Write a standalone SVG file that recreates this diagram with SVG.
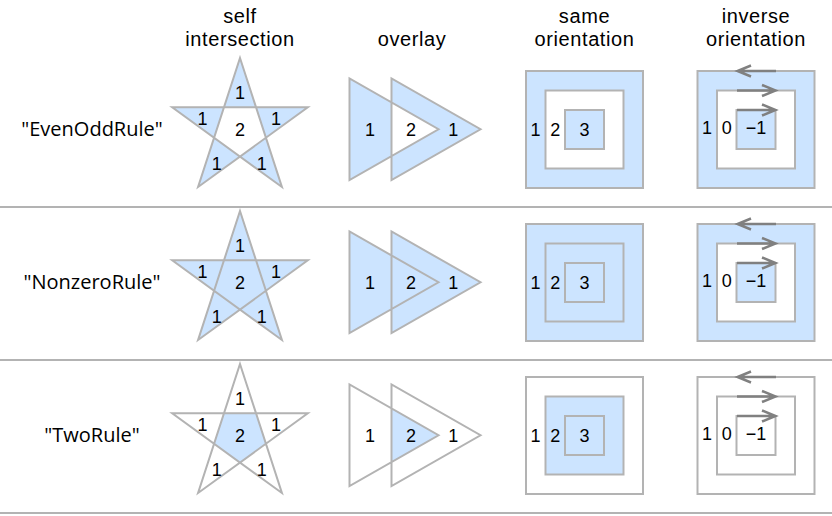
<svg xmlns="http://www.w3.org/2000/svg" xmlns:xlink="http://www.w3.org/1999/xlink" width="832" height="516" viewBox="0 0 832 516">
<style>
.hdr{font-family:"Liberation Sans",Arial,sans-serif;font-size:20px;letter-spacing:0.6px;fill:#000;text-anchor:middle}
.rl{font-family:"Open Sans","Liberation Sans",sans-serif;font-size:20px;fill:#000;text-anchor:middle}
.n{font-family:"Liberation Sans",Arial,sans-serif;font-size:18px;fill:#000;text-anchor:middle}
.fill{fill:#cce4ff;stroke:none}
.edge{fill:none;stroke:#b3b3b3;stroke-width:2;stroke-linejoin:miter}
.arr{fill:none;stroke:#808080;stroke-width:2.5}
.sep{stroke:#b3b3b3;stroke-width:2}
</style>
<defs>
<path id="star" d="M240,58 L281.9,187 L172.2,107.3 L307.8,107.3 L198.1,187 Z"/>
<path id="pent" d="M256,107.3 L265.9,137.7 L240,156.5 L214.1,137.7 L224,107.3 Z"/>
<path id="tris" d="M349.5,78.5 V180 L438.5,129.25 Z M391.5,78.5 V180 L480.5,129.25 Z"/>
<path id="lens" d="M391.5,102.45 L438.5,129.25 L391.5,156.05 Z"/>
<path id="sq3" d="M526,71 H643 V188 H526 Z M545.5,90.5 H623.5 V168.5 H545.5 Z M565,110 H604 V149 H565 Z"/>
<path id="sqmid" d="M545.5,90.5 H623.5 V168.5 H545.5 Z"/>
<path id="inv" d="M697.5,71 H814.5 V188 H697.5 Z M717,90.5 V168.5 H795 V90.5 Z M736.5,110 V149 H775.5 V110 Z"/>
<g id="arrows" class="arr">
<path d="M776,71 H738.5 M751,65.5 L737.5,71 L751,76.5"/>
<path d="M737,90.5 H774.5 M762,85 L775.5,90.5 L762,96"/>
<path d="M737,110 H774.5 M762,104.5 L775.5,110 L762,115.5"/>
</g>
<g id="starNums" class="n">
<text x="240" y="99.4">1</text>
<text x="202.5" y="124.6">1</text>
<text x="276" y="124.6">1</text>
<text x="240" y="135.7">2</text>
<text x="216.7" y="169.7">1</text>
<text x="261.7" y="169.7">1</text>
</g>
<g id="triNums" class="n">
<text x="370" y="136.4">1</text>
<text x="411" y="136.4">2</text>
<text x="453.3" y="136.4">1</text>
</g>
<g id="sqNums" class="n">
<text x="535.5" y="135.6">1</text>
<text x="555.3" y="135.6">2</text>
<text x="584.5" y="135.6">3</text>
</g>
<g id="invNums" class="n">
<text x="707" y="134.2">1</text>
<text x="726.8" y="134.2">0</text>
<text x="756" y="134.2">−1</text>
</g>
</defs>

<g id="headers">
<text class="hdr" x="240" y="22.5">self</text>
<text class="hdr" x="240" y="46">intersection</text>
<text class="hdr" x="412" y="46">overlay</text>
<text class="hdr" x="584.5" y="22.5">same</text>
<text class="hdr" x="584.5" y="46">orientation</text>
<text class="hdr" x="756" y="22.5">inverse</text>
<text class="hdr" x="756" y="46">orientation</text>
</g>

<g id="separators">
<line class="sep" x1="0" y1="207" x2="832" y2="207"/>
<line class="sep" x1="0" y1="360" x2="832" y2="360"/>
<line class="sep" x1="0" y1="513" x2="832" y2="513"/>
</g>

<g id="row-evenodd">
<text class="rl" x="92" y="136">"EvenOddRule"</text>
<g id="eo-star"><use href="#star" class="fill" fill-rule="evenodd"/><use href="#star" class="edge"/><use href="#starNums"/></g>
<g id="eo-overlay"><use href="#tris" class="fill" fill-rule="evenodd"/><use href="#tris" class="edge"/><use href="#triNums"/></g>
<g id="eo-same"><use href="#sq3" class="fill" fill-rule="evenodd"/><use href="#sq3" class="edge"/><use href="#sqNums"/></g>
<g id="eo-inverse"><use href="#inv" class="fill" fill-rule="evenodd"/><use href="#inv" class="edge"/><use href="#arrows"/><use href="#invNums"/></g>
</g>

<g id="row-nonzero" transform="translate(0,153)">
<text class="rl" x="92" y="136">"NonzeroRule"</text>
<g id="nz-star"><use href="#star" class="fill" fill-rule="nonzero"/><use href="#star" class="edge"/><use href="#starNums"/></g>
<g id="nz-overlay"><use href="#tris" class="fill" fill-rule="nonzero"/><use href="#tris" class="edge"/><use href="#triNums"/></g>
<g id="nz-same"><use href="#sq3" class="fill" fill-rule="nonzero"/><use href="#sq3" class="edge"/><use href="#sqNums"/></g>
<g id="nz-inverse"><use href="#inv" class="fill" fill-rule="nonzero"/><use href="#inv" class="edge"/><use href="#arrows"/><use href="#invNums"/></g>
</g>

<g id="row-two" transform="translate(0,306)">
<text class="rl" x="92" y="136">"TwoRule"</text>
<g id="tw-star"><use href="#pent" class="fill"/><use href="#star" class="edge"/><use href="#starNums"/></g>
<g id="tw-overlay"><use href="#lens" class="fill"/><use href="#tris" class="edge"/><use href="#triNums"/></g>
<g id="tw-same"><use href="#sqmid" class="fill"/><use href="#sq3" class="edge"/><use href="#sqNums"/></g>
<g id="tw-inverse"><use href="#inv" class="edge"/><use href="#arrows"/><use href="#invNums"/></g>
</g>
</svg>
